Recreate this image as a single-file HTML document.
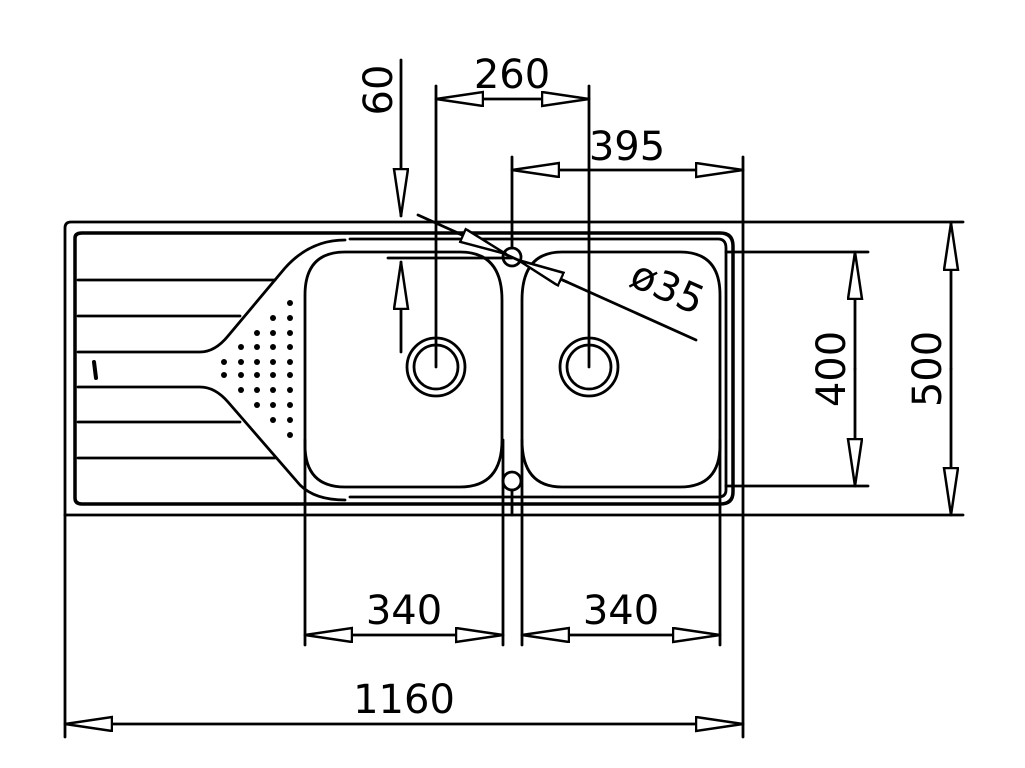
<!DOCTYPE html>
<html><head><meta charset="utf-8"><style>html,body{margin:0;padding:0;background:#fff}svg{display:block}</style></head>
<body>
<svg width="1025" height="768" viewBox="0 0 1025 768" xmlns="http://www.w3.org/2000/svg">
<defs>
<marker id="a" markerWidth="50" markerHeight="18" refX="48" refY="8" orient="auto-start-reverse" markerUnits="userSpaceOnUse">
<path d="M1,1 L48,8 L1,15 Z" fill="#fff" stroke="#000" stroke-width="2.5"/>
</marker>
</defs>
<g fill="none" stroke="#000" stroke-width="2.8" stroke-linecap="round" stroke-linejoin="round">
<path d="M65,515 L65,228 Q65,222 71,222 L963,222"/>
<path d="M65,515 L963,515"/>
<line x1="743" y1="157" x2="743" y2="737"/>
<path d="M75,238 Q75,233 82,233 L720,233 Q733,233 733,246 L733,492 Q733,504 720,504 L82,504 Q75,504 75,498 Z" stroke-width="3.5"/>
<path d="M350,239 L718,239 Q726,239 726,248 L726,490 Q726,497 718,497 L350,497"/>
<path d="M78,280 L275,280"/>
<path d="M78,316 L240,316"/>
<path d="M78,352 L200,352 Q215,352 228,336 L285,268 Q310,240 345,240"/>
<path d="M78,387 L200,387 Q215,387 228,402 L300,485 Q315,500 345,500"/>
<path d="M78,422 L240,422"/>
<path d="M78,458 L275,458"/>
<path d="M94,362 L96,378" stroke-width="4"/>
<path d="M345,252 L460,252 Q502,252 502,300 L502,440 Q502,487 460,487 L345,487 Q305,487 305,445 L305,295 Q305,252 345,252 Z"/>
<path d="M562,252 L680,252 Q720,252 720,295 L720,445 Q720,487 680,487 L562,487 Q522,487 522,440 L522,300 Q522,252 562,252 Z"/>
<line x1="305" y1="440" x2="305" y2="645"/>
<line x1="503" y1="440" x2="503" y2="645"/>
<line x1="522" y1="440" x2="522" y2="645"/>
<line x1="720" y1="440" x2="720" y2="645"/>
<line x1="65" y1="515" x2="65" y2="737"/>
<circle cx="436" cy="367" r="29"/>
<circle cx="436" cy="367" r="22"/>
<circle cx="589" cy="367" r="29"/>
<circle cx="589" cy="367" r="22"/>
<circle cx="512" cy="257" r="9"/>
<circle cx="512" cy="481" r="9"/>
<line x1="436" y1="86" x2="436" y2="367"/>
<line x1="589" y1="86" x2="589" y2="367"/>
<line x1="512" y1="157" x2="512" y2="248"/>
<line x1="512" y1="490" x2="512" y2="515"/>
<line x1="401" y1="60" x2="401" y2="216" marker-end="url(#a)"/>
<line x1="401" y1="352" x2="401" y2="262" marker-end="url(#a)"/>
<line x1="388" y1="258" x2="512" y2="258"/>
<line x1="436" y1="99" x2="589" y2="99" marker-start="url(#a)" marker-end="url(#a)"/>
<line x1="512" y1="170" x2="743" y2="170" marker-start="url(#a)" marker-end="url(#a)"/>
<line x1="418" y1="215" x2="696" y2="340"/>
<line x1="455" y1="232" x2="506" y2="254" marker-end="url(#a)"/>
<line x1="567" y1="282" x2="518" y2="260" marker-end="url(#a)"/>
<line x1="726" y1="252" x2="868" y2="252"/>
<line x1="726" y1="486" x2="868" y2="486"/>
<line x1="855" y1="369" x2="855" y2="252" marker-end="url(#a)"/>
<line x1="855" y1="369" x2="855" y2="486" marker-end="url(#a)"/>
<line x1="951" y1="369" x2="951" y2="223" marker-end="url(#a)"/>
<line x1="951" y1="369" x2="951" y2="515" marker-end="url(#a)"/>
<line x1="305" y1="635" x2="503" y2="635" marker-start="url(#a)" marker-end="url(#a)"/>
<line x1="522" y1="635" x2="720" y2="635" marker-start="url(#a)" marker-end="url(#a)"/>
<line x1="65" y1="724" x2="743" y2="724" marker-start="url(#a)" marker-end="url(#a)"/>
</g>
<g fill="#000">
<circle cx="290" cy="303" r="3"/><circle cx="273" cy="318" r="3"/><circle cx="290" cy="318" r="3"/>
<circle cx="257" cy="333" r="3"/><circle cx="273" cy="333" r="3"/><circle cx="290" cy="333" r="3"/>
<circle cx="241" cy="347" r="3"/><circle cx="257" cy="347" r="3"/><circle cx="273" cy="347" r="3"/><circle cx="290" cy="347" r="3"/>
<circle cx="224" cy="362" r="3"/><circle cx="241" cy="362" r="3"/><circle cx="257" cy="362" r="3"/><circle cx="273" cy="362" r="3"/><circle cx="290" cy="362" r="3"/>
<circle cx="224" cy="375" r="3"/><circle cx="241" cy="375" r="3"/><circle cx="257" cy="375" r="3"/><circle cx="273" cy="375" r="3"/><circle cx="290" cy="375" r="3"/>
<circle cx="241" cy="390" r="3"/><circle cx="257" cy="390" r="3"/><circle cx="273" cy="390" r="3"/><circle cx="290" cy="390" r="3"/>
<circle cx="257" cy="405" r="3"/><circle cx="273" cy="405" r="3"/><circle cx="290" cy="405" r="3"/>
<circle cx="273" cy="420" r="3"/><circle cx="290" cy="420" r="3"/>
<circle cx="290" cy="435" r="3"/>
</g>
<g font-family="'DejaVu Sans','Liberation Sans',sans-serif" font-size="40" fill="#000" text-anchor="middle">
<text x="512" y="88">260</text>
<text x="627" y="160">395</text>
<text x="0" y="0" transform="translate(392,90) rotate(-90)">60</text>
<text x="0" y="0" transform="translate(662,300) rotate(24)">ø35</text>
<text x="0" y="0" transform="translate(845,369) rotate(-90)">400</text>
<text x="0" y="0" transform="translate(941,369) rotate(-90)">500</text>
<text x="404" y="624">340</text>
<text x="621" y="624">340</text>
<text x="404" y="713">1160</text>
</g>
</svg>
</body></html>
